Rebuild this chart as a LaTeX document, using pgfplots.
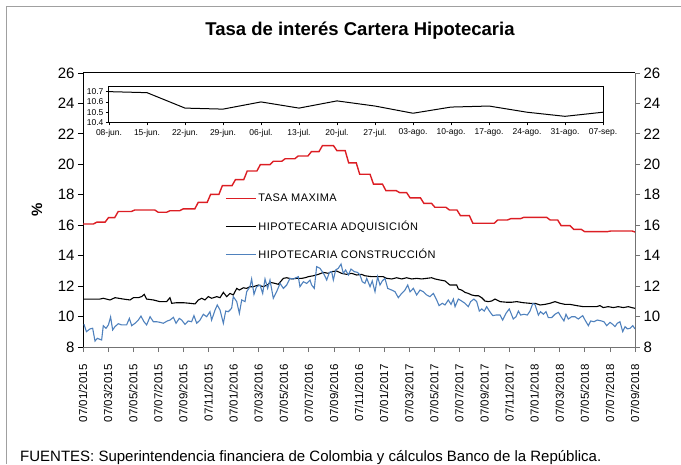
\documentclass[border=0pt]{standalone}
\usepackage{fontspec}
\setmainfont{Liberation Sans}
\usepackage{pgfplots}
\pgfplotsset{compat=1.18}
\definecolor{tasared}{RGB}{220,30,36}
\definecolor{conblue}{RGB}{79,129,189}
\definecolor{framegray}{RGB}{160,160,160}
\begin{document}
\begin{tikzpicture}[x=1pt,y=1pt]
\useasboundingbox (0,0) rectangle (681,464);
\draw[framegray, line width=1.5pt] (6.5,0) -- (6.5,457.5) -- (681,457.5);
\node[font=\bfseries\fontsize{18.5}{20}\selectfont] at (360,433) {Tasa de interés Cartera Hipotecaria};
\node[font=\bfseries\fontsize{15}{16}\selectfont, rotate=90] at (37,254) {\%};
\node[anchor=base west, font=\fontsize{15}{16}\selectfont, inner sep=0pt] at (20,2.5) {FUENTES: Superintendencia financiera de Colombia y cálculos Banco de la República.};

% right axis
\begin{axis}[at={(83pt,117pt)}, anchor=south west, scale only axis, width=552pt, height=274pt,
  xmin=0, xmax=40, ymin=8, ymax=26,
  axis x line=none, axis y line*=right,
  y axis line style={black!55, line width=0.8pt},
  ytick={8,10,...,26}, tick align=outside, major tick length=5pt,
  ytick style={black!55, line width=0.8pt},
  yticklabel style={font=\fontsize{15}{16}\selectfont, /pgf/number format/assume math mode=true},
]
\end{axis}

% main axis
\begin{axis}[at={(83pt,117pt)}, anchor=south west, scale only axis, width=552pt, height=274pt,
  xmin=0, xmax=40, ymin=8, ymax=26,
  axis x line*=bottom, axis y line*=left,
  x axis line style={black!55, line width=0.8pt},
  y axis line style={black, line width=1pt},
  ytick={8,10,...,26}, tick align=outside, major tick length=5pt,
  ytick style={black, line width=0.8pt},
  xtick style={black!55, line width=0.8pt},
  xtick={0,1.81818,3.63636,5.45455,7.27273,9.09091,10.90909,12.72727,14.54545,16.36364,18.18182,20,21.81818,23.63636,25.45455,27.27273,29.09091,30.90909,32.72727,34.54545,36.36364,38.18182,40},
  xticklabels={07/01/2015,07/03/2015,07/05/2015,07/07/2015,07/09/2015,07/11/2015,07/01/2016,07/03/2016,07/05/2016,07/07/2016,07/09/2016,07/11/2016,07/01/2017,07/03/2017,07/05/2017,07/07/2017,07/09/2017,07/11/2017,07/01/2018,07/03/2018,07/05/2018,07/07/2018,07/09/2018},
  xticklabel style={yshift=-9pt, rotate=90, anchor=east, font=\fontsize{11.5}{12}\selectfont},
  yticklabel style={font=\fontsize{15}{16}\selectfont, /pgf/number format/assume math mode=true},
  legend style={at={(0.257,0.566)}, anchor=north west, draw=none, fill=none,
    font=\fontsize{11}{13}\selectfont\addfontfeature{LetterSpace=4}, row sep=13.5pt, inner sep=0pt},
  legend cell align=left,
  legend image code/.code={\draw[#1] (0pt,0pt) -- (30pt,0pt);},
]
\draw[black, line width=1pt] (rel axis cs:0,1) -- (rel axis cs:1,1);
\addplot[tasared, line width=1.4pt] coordinates {
(0,16.08) (0.75,16.08) (1.0,16.2) (1.6,16.2) (1.85,16.5) (2.3,16.5) (2.55,16.9) (3.5,16.9) (3.75,17.0) (5.2,17.0) (5.45,16.85) (6.05,16.85) (6.3,16.95) (7.0,16.95) (7.25,17.07) (8.1,17.07) (8.35,17.5) (9.0,17.5) (9.25,18.03) (9.85,18.03) (10.1,18.6) (10.8,18.6) (11.05,19.0) (11.65,19.0) (11.9,19.56) (12.6,19.56) (12.85,19.98) (13.55,19.98) (13.8,20.2) (14.4,20.2) (14.65,20.37) (15.35,20.37) (15.6,20.55) (16.3,20.55) (16.55,20.83) (17.1,20.83) (17.35,21.23) (18.15,21.23) (18.4,20.9) (19.0,20.9) (19.25,20.1) (19.8,20.1) (20.05,19.35) (20.8,19.35) (21.05,18.7) (21.7,18.7) (21.95,18.27) (22.7,18.27) (22.95,18.14) (23.45,18.14) (23.7,17.8) (24.45,17.8) (24.7,17.44) (25.25,17.44) (25.5,17.18) (26.3,17.18) (26.55,17.0) (27.1,17.0) (27.35,16.63) (28.0,16.63) (28.25,16.13) (29.8,16.13) (30.05,16.34) (30.75,16.34) (31.0,16.43) (31.7,16.43) (31.95,16.52) (33.6,16.52) (33.85,16.34) (34.4,16.34) (34.65,15.97) (35.3,15.97) (35.55,15.73) (36.1,15.73) (36.35,15.58) (38.0,15.58) (38.25,15.62) (39.8,15.62) (40,15.55)
};
\addlegendentry{TASA MAXIMA}
\addplot[black, line width=1.1pt] coordinates {
(0.07,11.15) (1.23,11.15) (1.47,11.2) (1.96,11.09) (2.32,11.24) (2.92,11.15) (3.41,11.09) (3.65,11.24) (4.01,11.24) (4.25,11.31) (4.44,11.46) (4.61,11.15) (5.1,11.09) (5.58,10.98) (6.06,10.98) (6.3,11.24) (6.43,10.87) (6.79,10.91) (7.27,10.91) (7.75,10.87) (8.12,10.83) (8.36,11.09) (8.6,11.2) (8.84,11.09) (9.08,11.31) (9.32,11.2) (9.69,11.31) (9.93,11.24) (10.17,11.59) (10.41,11.31) (10.65,11.52) (10.89,11.42) (11.14,11.85) (11.33,11.74) (11.62,11.89) (11.86,11.85) (12.1,11.96) (12.34,11.96) (12.71,12.07) (13.07,11.96) (13.43,12.12)
(13.55,12.25) (13.91,12.18) (14.15,12.12) (14.52,12.51) (14.76,12.55) (15.12,12.47) (15.48,12.51) (15.85,12.51) (16.09,12.55) (16.33,12.62) (16.69,12.68) (17.05,12.77) (17.42,12.9) (17.78,12.84) (18.02,12.95) (18.38,12.99) (18.74,12.84) (19.11,12.77) (19.47,12.84) (19.83,12.73) (20.19,12.77) (20.43,12.68) (20.92,12.62) (21.4,12.62) (21.76,12.62) (22.0,12.51) (22.37,12.47) (22.73,12.55) (23.09,12.47) (23.45,12.55) (23.82,12.47) (24.18,12.51) (24.54,12.47) (24.9,12.51) (25.27,12.55) (25.51,12.47) (25.87,12.4) (26.23,12.34) (26.59,12.07)
(27.08,12.07) (27.2,11.81) (27.44,11.74) (27.68,11.59) (27.92,11.52) (28.16,11.42) (28.41,11.37) (28.65,11.37) (28.89,11.24) (29.13,11.02) (29.37,10.98) (29.61,11.02) (29.86,11.15) (30.22,10.98) (30.7,10.94) (31.06,10.94) (31.43,10.98) (31.91,10.91) (32.39,10.87) (32.75,10.87) (33.12,10.76) (33.48,10.8) (33.84,10.87) (34.2,10.98) (34.57,10.87) (34.93,10.8) (35.29,10.8) (35.77,10.72) (36.25,10.65) (36.73,10.65) (37.22,10.65) (37.46,10.72) (37.7,10.59) (38.06,10.65) (38.43,10.59) (38.79,10.65) (39.15,10.59) (39.52,10.65) (39.76,10.59) (40.0,10.54)
};
\addlegendentry{HIPOTECARIA ADQUISICIÓN}
\addplot[conblue, line width=1.1pt] coordinates {
(0.07,9.49) (0.25,9.01) (0.51,9.19) (0.7,9.23) (0.87,8.39) (1.04,8.57) (1.18,8.52) (1.35,8.46) (1.47,9.4) (1.67,9.23) (1.84,9.45) (2.0,9.97) (2.15,9.12) (2.32,9.34) (2.56,9.53) (2.8,9.45) (3.16,9.45) (3.36,9.88) (3.53,9.4) (3.77,9.56) (4.01,9.77) (4.2,10.03) (4.42,9.66) (4.61,9.45) (4.86,9.99) (5.1,9.66) (5.34,9.66) (5.58,9.62) (5.82,9.56) (6.11,9.71) (6.3,9.77) (6.55,9.95) (6.74,9.56) (6.98,9.88) (7.15,9.77) (7.39,9.49) (7.63,9.71) (7.87,9.66) (8.04,10.06) (8.24,9.56) (8.48,9.77) (8.72,10.15) (8.96,9.99) (9.2,10.32) (9.32,9.77) (9.57,10.43) (9.73,10.76) (9.93,10.43) (10.17,9.56) (10.34,10.36) (10.53,10.32) (10.77,10.54) (10.89,11.31) (11.14,10.98) (11.33,10.21) (11.5,11.09) (11.74,10.98) (11.86,11.63) (12.1,11.96) (12.22,12.47) (12.39,11.46) (12.58,11.96) (12.83,12.07) (13.02,11.52) (13.19,12.47)
(13.38,11.85) (13.55,12.4) (13.79,11.2) (14.03,11.63) (14.28,12.18) (14.52,11.85) (14.76,12.07) (15.0,12.51) (15.24,12.47) (15.6,12.62) (15.72,11.96) (15.97,12.29) (16.21,12.18) (16.45,12.4) (16.57,12.07) (16.76,11.85) (16.93,13.28) (17.17,13.17) (17.34,12.95) (17.49,12.73) (17.66,12.4) (17.85,12.9) (18.02,12.95) (18.14,12.4) (18.31,13.06) (18.5,13.17) (18.7,13.45) (18.86,12.84) (19.03,13.06) (19.23,12.73) (19.42,13.12) (19.66,12.95) (19.9,12.9) (20.07,12.73) (20.24,12.29) (20.43,12.18) (20.56,12.51) (20.8,11.96) (20.96,12.34) (21.16,11.63) (21.35,12.62) (21.52,12.07) (21.69,12.34) (21.88,12.51) (22.08,11.85) (22.37,11.74) (22.61,11.63) (22.85,11.24) (23.09,11.52) (23.33,11.74) (23.53,12.07) (23.7,11.63) (23.94,11.85) (24.18,11.42) (24.42,11.74) (24.66,11.63) (24.9,11.42) (25.14,11.31) (25.39,11.52) (25.63,11.09) (25.8,10.72) (26.04,10.87) (26.23,10.76) (26.47,11.09) (26.67,10.8)
(26.84,11.15) (26.96,10.65) (27.2,11.15) (27.44,11.02) (27.68,10.87) (27.92,10.65) (28.09,10.98) (28.33,11.15) (28.53,10.98) (28.72,10.36) (28.89,10.5) (29.08,10.36) (29.25,10.65) (29.45,10.36) (29.69,10.06) (29.93,10.1) (30.22,10.1) (30.41,9.77) (30.65,10.21) (30.89,10.5) (31.18,9.84) (31.38,9.99) (31.55,10.36) (31.71,10.1) (31.96,10.15) (32.2,10.1) (32.39,10.36) (32.59,10.85) (32.75,10.8) (33.0,10.1) (33.16,10.32) (33.36,10.15) (33.55,10.32) (33.72,9.93) (33.96,9.93) (34.2,10.15) (34.45,10.28) (34.64,9.99) (34.85,9.71) (35.0,10.15) (35.17,9.84) (35.41,9.99) (35.65,9.99) (35.89,9.84) (36.21,10.06) (36.38,9.77) (36.62,9.4) (36.79,9.71) (37.03,9.66) (37.27,9.77) (37.58,9.71) (37.75,9.66) (37.95,9.4) (38.19,9.62) (38.38,9.49) (38.55,9.34) (38.72,9.56) (38.91,9.66) (39.11,9.01) (39.28,9.34) (39.45,9.19) (39.64,9.23) (39.84,9.4) (40.0,9.19)
};
\addlegendentry{HIPOTECARIA CONSTRUCCIÓN}
\end{axis}

% inset
\begin{axis}[at={(109pt,341.5pt)}, anchor=south west, scale only axis, width=494pt, height=36pt,
  xmin=0, xmax=13, ymin=10.4, ymax=10.75,
  axis background/.style={fill=white},
  axis line style={black, line width=1pt},
  tick pos=left, tick align=outside, major tick length=3pt,
  tick style={black, line width=0.6pt},
  ytick={10.4,10.5,10.6,10.7},
  yticklabel style={font=\fontsize{8.5}{9}\selectfont, /pgf/number format/assume math mode=true, /pgf/number format/fixed, /pgf/number format/precision=1, /pgf/number format/fixed zerofill, xshift=1pt},
  xtick={0,...,13},
  xticklabels={08-jun.,15-jun.,22-jun.,29-jun.,06-jul.,13-jul.,20-jul.,27-jul.,03-ago.,10-ago.,17-ago.,24-ago.,31-ago.,07-sep.},
  xticklabel style={font=\fontsize{8.5}{9}\selectfont},
]
\addplot[black, line width=1pt] coordinates {
(0,10.70) (1,10.69) (2,10.54) (3,10.53) (4,10.60) (5,10.54) (6,10.61) (7,10.56) (8,10.49) (9,10.55) (10,10.56) (11,10.50) (12,10.46) (13,10.50)
};
\end{axis}
\end{tikzpicture}
\end{document}
